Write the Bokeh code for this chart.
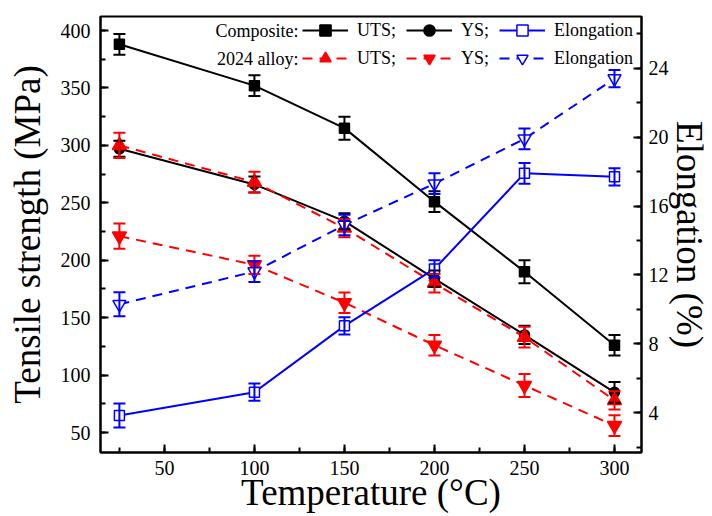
from bokeh.plotting import figure
from bokeh.models import (Range1d, LinearAxis, ColumnDataSource, Whisker, TeeHead,
                          Legend, LegendItem, Label, SingleIntervalTicker)
from bokeh.embed import file_html
from bokeh.resources import INLINE

temperature = [25, 100, 150, 200, 250, 300]

comp_uts = [388, 352, 315, 251, 190, 126]
comp_uts_err = [9, 9, 10, 9, 10, 9]
comp_ys = [297, 266, 234, 184, 135, 85]
comp_ys_err = [7, 7, 7, 7, 8, 9]
alloy_uts = [300, 268, 228, 180, 133, 78]
alloy_uts_err = [11, 9, 8, 8, 9, 8]
alloy_ys = [221, 196, 163, 126, 91, 56]
alloy_ys_err = [11, 8, 9, 9, 10, 9]
comp_el = [3.85, 5.2, 9.05, 12.35, 17.9, 17.7]
comp_el_err = [0.7, 0.5, 0.5, 0.5, 0.6, 0.5]
alloy_el = [10.3, 12.2, 14.9, 17.3, 19.9, 23.4]
alloy_el_err = [0.7, 0.6, 0.6, 0.6, 0.6, 0.5]

FONT = "Liberation Serif"

p = figure(width=712, height=516, output_backend="svg", toolbar_location=None,
           x_range=Range1d(14.5, 315), y_range=Range1d(32.6, 412.2),
           min_border_left=100, min_border_right=69, min_border_top=16,
           min_border_bottom=64)
p.extra_y_ranges = {"el": Range1d(1.7, 27.0)}
p.grid.visible = False
p.outline_line_color = "black"
p.outline_line_width = 2
p.background_fill_color = "white"
p.border_fill_color = "white"


def style_axis(ax, interval, label, standoff):
    ax.ticker = SingleIntervalTicker(interval=interval, num_minor_ticks=2)
    ax.axis_label = label
    ax.axis_label_text_font = FONT
    ax.axis_label_text_font_size = "37px"
    ax.axis_label_text_font_style = "normal"
    ax.axis_label_text_color = "black"
    ax.axis_label_standoff = standoff
    ax.major_label_text_font = FONT
    ax.major_label_text_font_size = "20px"
    ax.major_label_text_color = "black"
    ax.axis_line_color = "black"
    ax.major_tick_line_color = "black"
    ax.minor_tick_line_color = "black"
    ax.axis_line_width = 2
    ax.major_tick_line_width = 2
    ax.minor_tick_line_width = 2
    ax.major_tick_in = 8
    ax.major_tick_out = 0
    ax.minor_tick_in = 5
    ax.minor_tick_out = 0


style_axis(p.xaxis[0], 50, "Temperature (°C)", -6)
style_axis(p.yaxis[0], 50, "Tensile strength (MPa)", 10)
p.xaxis[0].major_label_standoff = 8
p.yaxis[0].major_label_standoff = 10

rax = LinearAxis(y_range_name="el")
style_axis(rax, 4, "Elongation (%)", -3)
rax.major_label_standoff = 7
p.add_layout(rax, "right")


def series(y, err, color, marker, dash, fill, size, yname="default"):
    src = ColumnDataSource(dict(x=temperature, y=y,
                                upper=[a + b for a, b in zip(y, err)],
                                lower=[a - b for a, b in zip(y, err)]))
    kw = {} if yname == "default" else {"y_range_name": yname}
    r_line = p.line("x", "y", source=src, line_color=color, line_width=2,
                    line_dash=dash, **kw)
    w = Whisker(base="x", upper="upper", lower="lower", source=src,
                line_color=color, line_width=2, level="glyph",
                upper_head=TeeHead(size=12, line_color=color, line_width=2),
                lower_head=TeeHead(size=12, line_color=color, line_width=2),
                **kw)
    p.add_layout(w)
    r_pt = p.scatter("x", "y", source=src, marker=marker, size=size,
                     fill_color=fill, line_color=color, line_width=1.5, **kw)
    return [r_line, r_pt]


DASH = "10 7"
r_cuts = series(comp_uts, comp_uts_err, "black", "square", "solid", "black", 10)
r_cys = series(comp_ys, comp_ys_err, "black", "circle", "solid", "black", 10)
r_auts = series(alloy_uts, alloy_uts_err, "red", "triangle", DASH, "red", 14)
r_ays = series(alloy_ys, alloy_ys_err, "red", "inverted_triangle", DASH, "red", 14)
r_cel = series(comp_el, comp_el_err, "blue", "square", "solid", "white", 10, "el")
r_ael = series(alloy_el, alloy_el_err, "blue", "inverted_triangle", DASH, "white", 13, "el")

legend_rows = [
    ("Composite:", [("UTS;", r_cuts), ("YS;", r_cys), ("Elongation", r_cel)]),
    ("2024 alloy:", [("UTS;", r_auts), ("YS;", r_ays), ("Elongation", r_ael)]),
]
FRAME_H = 516 - 16 - 64
ROW_H = 28
for i, (head, entries) in enumerate(legend_rows):
    top = FRAME_H - i * ROW_H
    lg = Legend(items=[LegendItem(label=lab, renderers=rs) for lab, rs in entries],
                orientation="horizontal", location=(202, top - ROW_H),
                margin=0, padding=0, spacing=10, label_standoff=9,
                glyph_width=46, glyph_height=ROW_H, label_height=ROW_H,
                label_text_font=FONT, label_text_font_size="18px",
                label_text_color="black",
                border_line_alpha=0, background_fill_alpha=0)
    p.add_layout(lg)
    p.add_layout(Label(x=198, y=top - ROW_H / 2, x_units="screen", y_units="screen",
                       text=head, text_align="right", text_baseline="middle",
                       text_font=FONT, text_font_size="18px", text_color="black"))

open("out.html", "w").write(file_html(p, INLINE))
